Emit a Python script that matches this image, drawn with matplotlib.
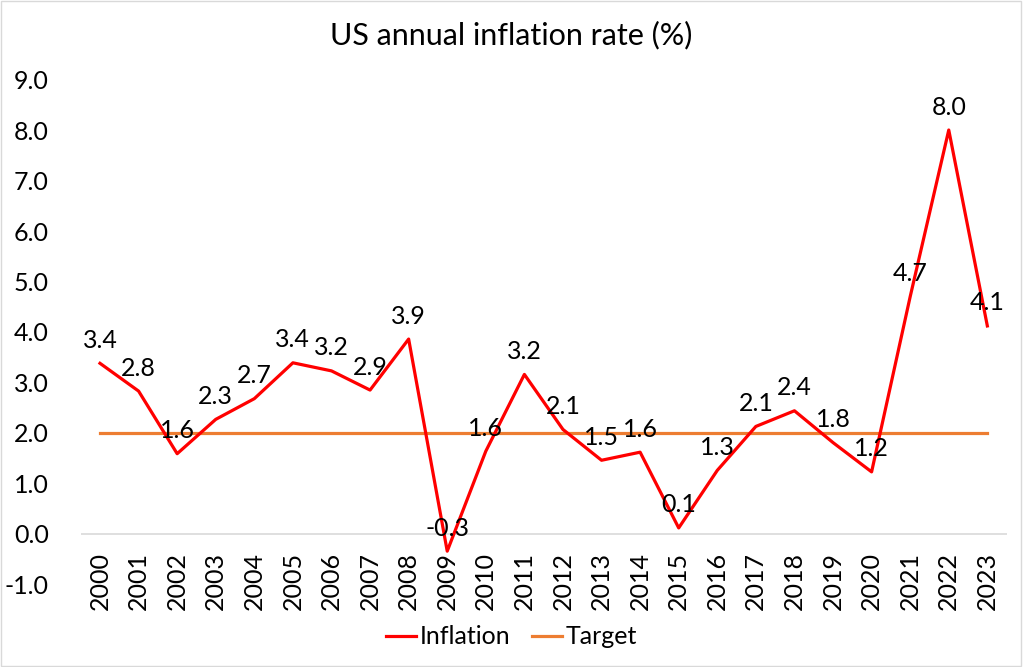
import matplotlib
matplotlib.use('Agg')
import matplotlib.pyplot as plt

plt.rcParams['font.family'] = ['Lato', 'DejaVu Sans']

years = [str(y) for y in range(2000, 2024)]
inflation = [3.38, 2.83, 1.59, 2.27, 2.68, 3.39, 3.23, 2.85, 3.86, -0.34,
             1.64, 3.16, 2.07, 1.46, 1.62, 0.12, 1.26, 2.13, 2.44, 1.81,
             1.23, 4.70, 8.00, 4.12]
target = [2.0] * len(years)

fig = plt.figure(figsize=(10.23, 6.67), dpi=100)
ax = fig.add_axes([0.0789, 0.1237, 0.9051, 0.7571])

x = list(range(len(years)))
ax.plot(x, inflation, color='#FF0000', lw=2.3, label='Inflation', zorder=3)
ax.plot(x, target, color='#ED7D31', lw=2.3, label='Target', zorder=2)
ax.axhline(0, color='#D9D9D9', lw=1.2, zorder=1)

for i, v in enumerate(inflation):
    ax.annotate('%.1f' % v, (i, v), xytext=(0, 23), textcoords='offset pixels',
                ha='center', va='center', fontsize=18, color='black', zorder=4)

# category labels sit under the zero line, like Excel does
for i, yr in enumerate(years):
    ax.annotate(yr, (i, 0), xytext=(0, -18), textcoords='offset pixels',
                rotation=90, ha='center', va='top', fontsize=18, color='black')

ax.set_xlim(-0.5, len(years) - 0.5)
ax.set_ylim(-1, 9)
ax.set_yticks(range(-1, 10))
ax.set_yticklabels(['%.1f' % t for t in range(-1, 10)])
ax.set_xticks([])
ax.tick_params(axis='both', length=0, labelsize=18, colors='black')
ax.tick_params(axis='y', pad=23)
for s in ax.spines.values():
    s.set_visible(False)

fig.text(0.5, 0.948, 'US annual inflation rate (%)', ha='center', va='center', fontsize=22)
fig.legend(loc='center', bbox_to_anchor=(0.5, 0.045), ncol=2, frameon=False,
           fontsize=18, handlelength=1.2, columnspacing=0.9, handletextpad=0.15)

fig.patches.append(plt.Rectangle((0.001, 0.001), 0.997, 0.997, transform=fig.transFigure,
                                 fill=False, edgecolor='#D9D9D9', lw=1))

fig.savefig('out.png', dpi=100)
